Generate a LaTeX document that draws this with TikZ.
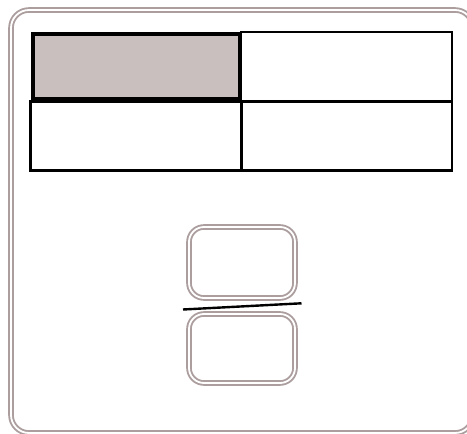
\documentclass[tikz,border=0pt]{standalone}
\usepackage{xcolor}
\definecolor{framegray}{RGB}{172,158,158}
\definecolor{cellshade}{RGB}{201,191,191}
\usetikzlibrary{positioning}

\begin{document}
\begin{tikzpicture}[x=1pt,y=-1pt,
  cell/.style={draw,line width=2.6pt,minimum width=211pt,minimum height=69pt,inner sep=0pt},
  button/.style={draw=framegray,double=white,double distance=1.8pt,line width=1.9pt,rounded corners=15pt,minimum width=106pt,minimum height=70pt,inner sep=0pt}]
  \useasboundingbox (0,0) rectangle (467,434);
  \node[draw=framegray,double=white,double distance=1.8pt,line width=1.9pt,rounded corners=18pt,minimum width=462pt,minimum height=423pt,inner sep=0pt] (frame) at (242,221.5) {};
  % table
  \node[cell] (c12) at (346.5,66.5) {};
  \node[cell] (c21) at (136,136) {};
  \node[cell] (c22) at (346.5,136) {};
  \node[cell,fill=cellshade,line width=4.5pt,minimum width=207pt,minimum height=65.5pt] (c11) at (136.5,66.75) {};
  % buttons
  \node[button,minimum height=71pt] (upper) at (242,262.5) {};
  \node[button,minimum height=69pt] (lower) at (242,348.5) {};
  \coordinate (barL) at (183,309.5);
  \coordinate (barR) at (301.5,303.3);
  \draw[line width=2.4pt] (barL) -- (barR);
\end{tikzpicture}
\end{document}
